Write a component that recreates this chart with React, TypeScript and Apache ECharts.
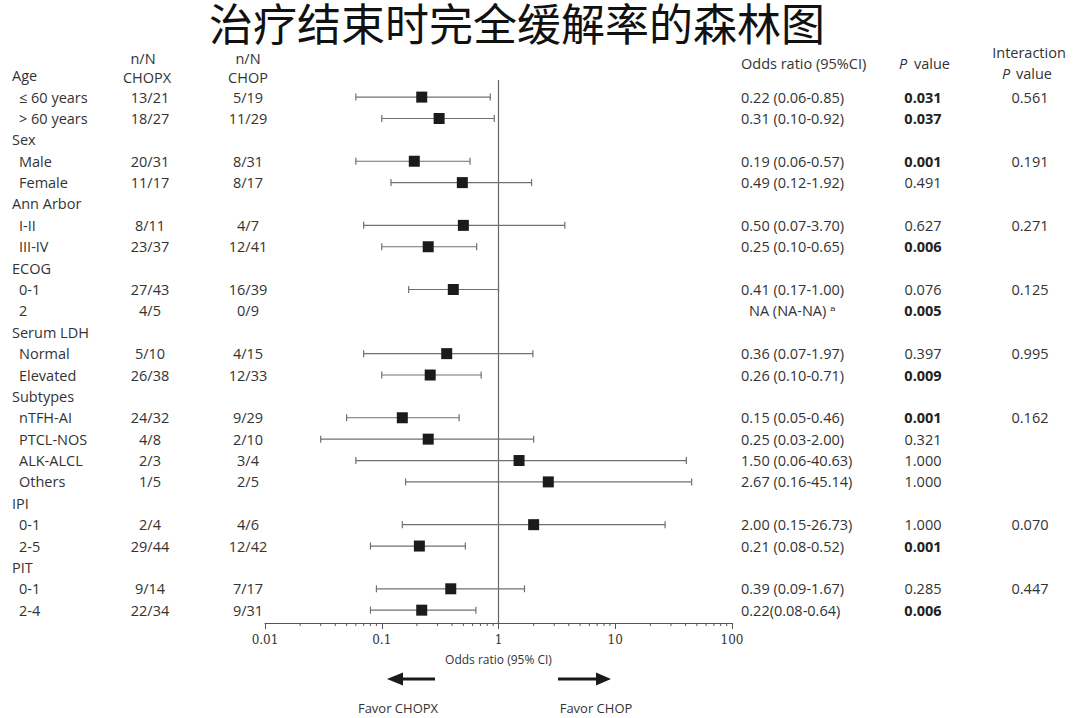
import React, { useEffect, useRef } from "react";
import * as echarts from "echarts";

const rowLabels = ["Age", "≤ 60 years", "> 60 years", "Sex", "Male", "Female", "Ann Arbor", "I-II", "III-IV", "ECOG", "0-1", "2", "Serum LDH", "Normal", "Elevated", "Subtypes", "nTFH-AI", "PTCL-NOS", "ALK-ALCL", "Others", "IPI", "0-1", "2-5", "PIT", "0-1", "2-4"];
const headerRows = [0, 3, 6, 9, 12, 15, 20, 23];
const chopxCounts = ["", "13/21", "18/27", "", "20/31", "11/17", "", "8/11", "23/37", "", "27/43", "4/5", "", "5/10", "26/38", "", "24/32", "4/8", "2/3", "1/5", "", "2/4", "29/44", "", "9/14", "22/34"];
const chopCounts = ["", "5/19", "11/29", "", "8/31", "8/17", "", "4/7", "12/41", "", "16/39", "0/9", "", "4/15", "12/33", "", "9/29", "2/10", "3/4", "2/5", "", "4/6", "12/42", "", "7/17", "9/31"];
const oddsRatio = [null, 0.22, 0.31, null, 0.19, 0.49, null, 0.5, 0.25, null, 0.41, null, null, 0.36, 0.26, null, 0.15, 0.25, 1.5, 2.67, null, 2.0, 0.21, null, 0.39, 0.22];
const ciLow = [null, 0.06, 0.1, null, 0.06, 0.12, null, 0.07, 0.1, null, 0.17, null, null, 0.07, 0.1, null, 0.05, 0.03, 0.06, 0.16, null, 0.15, 0.08, null, 0.09, 0.08];
const ciHigh = [null, 0.85, 0.92, null, 0.57, 1.92, null, 3.7, 0.65, null, 1.0, null, null, 1.97, 0.71, null, 0.46, 2.0, 40.63, 45.14, null, 26.73, 0.52, null, 1.67, 0.64];
const orLabels = ["", "0.22 (0.06-0.85)", "0.31 (0.10-0.92)", "", "0.19 (0.06-0.57)", "0.49 (0.12-1.92)", "", "0.50 (0.07-3.70)", "0.25 (0.10-0.65)", "", "0.41 (0.17-1.00)", "NA (NA-NA) ᵃ", "", "0.36 (0.07-1.97)", "0.26 (0.10-0.71)", "", "0.15 (0.05-0.46)", "0.25 (0.03-2.00)", "1.50 (0.06-40.63)", "2.67 (0.16-45.14)", "", "2.00 (0.15-26.73)", "0.21 (0.08-0.52)", "", "0.39 (0.09-1.67)", "0.22(0.08-0.64)"];
const pValues = ["", "0.031", "0.037", "", "0.001", "0.491", "", "0.627", "0.006", "", "0.076", "0.005", "", "0.397", "0.009", "", "0.001", "0.321", "1.000", "1.000", "", "1.000", "0.001", "", "0.285", "0.006"];
const interactionP = ["", "0.561", "", "", "0.191", "", "", "0.271", "", "", "0.125", "", "", "0.995", "", "", "0.162", "", "", "", "", "0.070", "", "", "0.447", ""];
const majorTicks = [0.01, 0.1, 1, 10, 100];
const tickLabels = ["0.01", "0.1", "1", "10", "100"];
const minorMultipliers = [2, 3, 4, 5, 6, 7, 8, 9];

const FONT = '"Open Sans", "DejaVu Sans", sans-serif';
const FS = 14.5;
const Y_MIN = 0.2;
const Y_MAX = 25.6;

function txt(x: number, y: number, text: string, align: string, opts: any = {}) {
  const style: any = {
    text,
    fill: opts.fill || "#333",
    fontSize: opts.fontSize || FS,
    fontFamily: opts.fontFamily || FONT,
    fontWeight: opts.fontWeight || "normal",
    fontStyle: opts.fontStyle || "normal",
    align,
    verticalAlign: "middle",
    textAlign: align,
    textVerticalAlign: "middle",
  };
  if (opts.lineHeight) style.lineHeight = opts.lineHeight;
  return { type: "text", x, y, silent: true, style };
}

export default function App() {
  const ref = useRef<HTMLDivElement>(null);
  useEffect(() => {
    if (!ref.current) return;
    const chart = echarts.init(ref.current, null, { renderer: "svg" });

    const forestData: number[][] = [];
    oddsRatio.forEach((v, i) => {
      if (v != null) forestData.push([v as number, i, ciLow[i] as number, ciHigh[i] as number]);
    });
    const minorData: number[][] = [];
    majorTicks.slice(0, -1).forEach((d) => minorMultipliers.forEach((m) => minorData.push([d * m, Y_MAX])));
    const tableData = rowLabels.map((_, i) => [1, i]);

    const option: any = {
      animation: false,
      backgroundColor: "#fff",
      grid: { left: 265, right: 348, top: 80, bottom: 95, containLabel: false },
      xAxis: {
        type: "log",
        logBase: 10,
        min: 0.01,
        max: 100,
        name: "Odds ratio (95% CI)",
        nameLocation: "middle",
        nameGap: 30,
        nameTextStyle: { fontFamily: FONT, fontSize: 12, color: "#333" },
        axisLine: { show: true, onZero: false, lineStyle: { color: "#555", width: 1 } },
        axisTick: { show: true, length: 6, lineStyle: { color: "#555" } },
        axisLabel: {
          fontFamily: '"DejaVu Serif", "Liberation Serif", serif',
          fontSize: 12,
          color: "#333",
          margin: 11,
          formatter: (v: number) => {
            const idx = majorTicks.findIndex((t) => Math.abs(Math.log10(t) - Math.log10(v)) < 1e-6);
            return idx >= 0 ? tickLabels[idx] : "";
          },
        },
        splitLine: { show: false },
        minorTick: { show: false },
      },
      yAxis: { type: "value", inverse: true, min: Y_MIN, max: Y_MAX, show: false },
      series: [
        {
          type: "custom",
          name: "ref",
          clip: false,
          silent: true,
          data: [[1, Y_MIN]],
          encode: { x: 0, y: 1 },
          renderItem: (params: any, api: any) => {
            const a = api.coord([1, Y_MIN]);
            const b = api.coord([1, Y_MAX]);
            return {
              type: "line",
              shape: { x1: a[0], y1: a[1], x2: b[0], y2: b[1] },
              style: { stroke: "#666", lineWidth: 1.2 },
            };
          },
        },
        {
          type: "custom",
          name: "minorTicks",
          clip: false,
          silent: true,
          data: minorData,
          encode: { x: 0, y: 1 },
          renderItem: (params: any, api: any) => {
            const p = api.coord([api.value(0), Y_MAX]);
            return {
              type: "line",
              shape: { x1: p[0], y1: p[1], x2: p[0], y2: p[1] + 3 },
              style: { stroke: "#555", lineWidth: 1 },
            };
          },
        },
        {
          type: "custom",
          name: "forest",
          clip: false,
          silent: true,
          data: forestData,
          encode: { x: [0, 2, 3], y: 1 },
          renderItem: (params: any, api: any) => {
            const r = api.value(1);
            const c = api.coord([api.value(0), r]);
            const l = api.coord([api.value(2), r]);
            const h = api.coord([api.value(3), r]);
            const cap = 3.5;
            const s = 11;
            const stroke = { stroke: "#707070", lineWidth: 1.2 };
            return {
              type: "group",
              children: [
                { type: "line", shape: { x1: l[0], y1: l[1], x2: h[0], y2: h[1] }, style: stroke },
                { type: "line", shape: { x1: l[0], y1: l[1] - cap, x2: l[0], y2: l[1] + cap }, style: stroke },
                { type: "line", shape: { x1: h[0], y1: h[1] - cap, x2: h[0], y2: h[1] + cap }, style: stroke },
                { type: "rect", shape: { x: c[0] - s / 2, y: c[1] - s / 2, width: s, height: s }, style: { fill: "#1b1b1b" } },
              ],
            };
          },
        },
        {
          type: "custom",
          name: "table",
          clip: false,
          silent: true,
          data: tableData,
          encode: { x: 0, y: 1 },
          renderItem: (params: any, api: any) => {
            const i = api.value(1);
            const y = api.coord([1, i])[1];
            const isHeader = headerRows.indexOf(i) >= 0;
            const children: any[] = [txt(isHeader ? 12 : 19, y, rowLabels[i], "left")];
            if (chopxCounts[i]) children.push(txt(150, y, chopxCounts[i], "center"));
            if (chopCounts[i]) children.push(txt(248, y, chopCounts[i], "center"));
            if (orLabels[i]) children.push(txt(orLabels[i].startsWith("NA") ? 749 : 741, y, orLabels[i], "left"));
            if (pValues[i]) {
              const sig = parseFloat(pValues[i]) < 0.05;
              children.push(txt(923, y, pValues[i], "center", sig ? { fontWeight: "bold", fill: "#222" } : {}));
            }
            if (interactionP[i]) children.push(txt(1030, y, interactionP[i], "center"));
            return { type: "group", children };
          },
        },
      ],
      graphic: [
        txt(517, 22, "治疗结束时完全缓解率的森林图", "center", { fontSize: 44, lineHeight: 42, fontFamily: '"Noto Sans CJK SC", sans-serif', fill: "#111" }),
        txt(143, 58, "n/N", "center"),
        txt(147, 77, "CHOPX", "center"),
        txt(248, 58, "n/N", "center"),
        txt(248, 77, "CHOP", "center"),
        txt(741, 63, "Odds ratio (95%CI)", "left"),
        txt(903, 63, "P", "center", { fontStyle: "italic" }),
        txt(932, 63, "value", "center"),
        txt(1029, 52, "Interaction", "center"),
        txt(1006, 73, "P", "center", { fontStyle: "italic" }),
        txt(1034, 73, "value", "center"),
        { type: "polygon", silent: true, shape: { points: [[387, 679], [403, 672.5], [403, 685.5]] }, style: { fill: "#1a1a1a" } },
        { type: "rect", silent: true, shape: { x: 401, y: 677.5, width: 34, height: 3 }, style: { fill: "#1a1a1a" } },
        { type: "rect", silent: true, shape: { x: 558, y: 677.5, width: 40, height: 3 }, style: { fill: "#1a1a1a" } },
        { type: "polygon", silent: true, shape: { points: [[611, 679], [596, 672.5], [596, 685.5]] }, style: { fill: "#1a1a1a" } },
        txt(398, 708, "Favor CHOPX", "center", { fontSize: 13 }),
        txt(596, 708, "Favor CHOP", "center", { fontSize: 13 }),
      ],
    };
    chart.setOption(option);
    return () => chart.dispose();
  }, []);
  return <div ref={ref} style={{ position: "absolute", left: 0, top: 0, width: 1080, height: 718, background: "#fff" }} />;
}
